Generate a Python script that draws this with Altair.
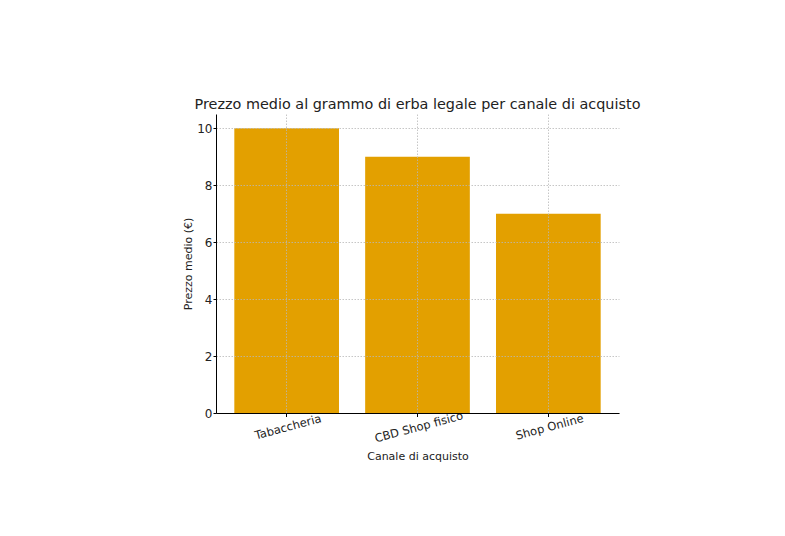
import altair as alt
import pandas as pd

categories = ["Tabaccheria", "CBD Shop fisico", "Shop Online"]
prices = [10, 9, 7]
y_ticks = [0, 2, 4, 6, 8, 10]

df = pd.DataFrame({"Canale": categories, "Prezzo": prices})

FONT = "DejaVu Sans"

bars = alt.Chart(df).mark_bar(color="#E3A000").encode(
    x=alt.X(
        "Canale:N",
        sort=categories,
        scale=alt.Scale(paddingInner=0.2, paddingOuter=0.14),
        axis=alt.Axis(
            title="Canale di acquisto",
            labelAngle=345,
            labelAlign="center",
            labelBaseline="top",
            labelPadding=5,
            labelFontSize=11.5,
            labelColor="#222222",
            titleFontSize=11,
            titleFontWeight="normal",
            titleColor="#222222",
            titlePadding=6,
            grid=True,
            gridColor="#b8b8b8",
            gridDash=[1.5, 1.5],
            gridWidth=0.8,
            bandPosition=0.5,
            domainColor="#000000",
            tickColor="#000000",
            tickSize=3.5,
            zindex=1,
        ),
    ),
    y=alt.Y(
        "Prezzo:Q",
        scale=alt.Scale(domain=[0, 10.5], nice=False),
        axis=alt.Axis(
            title="Prezzo medio (€)",
            values=y_ticks,
            labelFontSize=12,
            labelColor="#222222",
            titleFontSize=11,
            titleFontWeight="normal",
            titleColor="#222222",
            titlePadding=3,
            grid=True,
            gridColor="#b8b8b8",
            gridDash=[1.5, 1.5],
            gridWidth=0.8,
            domainColor="#000000",
            tickColor="#000000",
            tickSize=3,
            labelPadding=1,
            zindex=1,
        ),
    ),
)

chart = bars.properties(
    width=403,
    height=299,
    title=alt.TitleParams(
        "Prezzo medio al grammo di erba legale per canale di acquisto",
        fontSize=14.4,
        fontWeight="normal",
        color="#222222",
        anchor="middle",
        offset=2,
    ),
    autosize=alt.AutoSizeParams(type="none"),
    padding={"left": 208, "top": 106, "right": 158, "bottom": 115},
).configure(font=FONT).configure_view(stroke=None)

chart.save("out.html", embed_options={"renderer": "svg", "actions": False})
